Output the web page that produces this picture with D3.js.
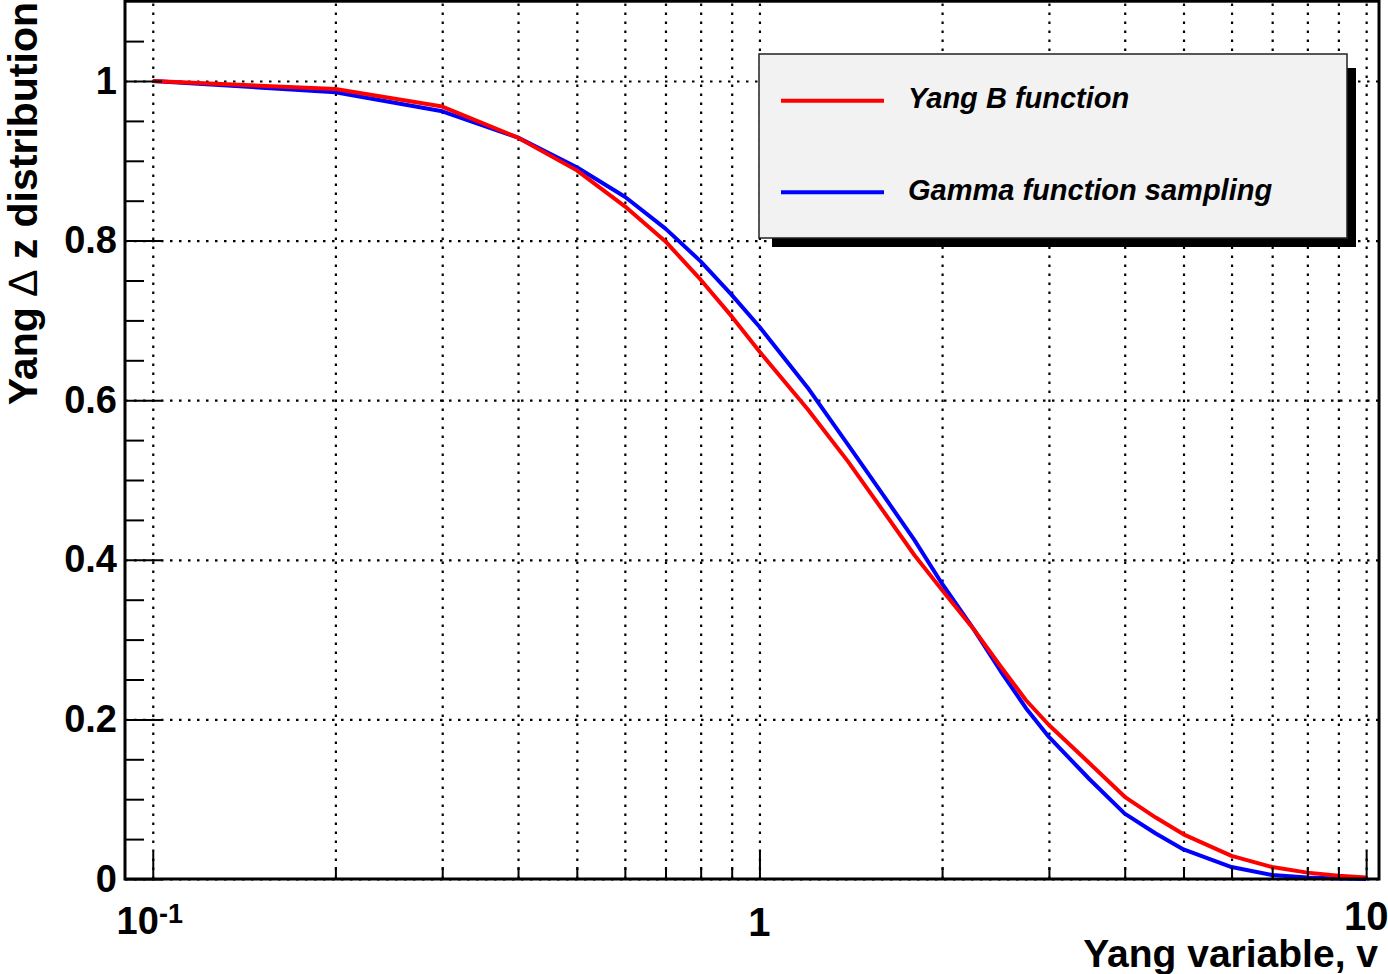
<!DOCTYPE html>
<html>
<head>
<meta charset="utf-8">
<script src="https://cdn.jsdelivr.net/npm/d3@7"></script>
<style>
  body { margin: 0; background: #fff; }
  svg { display: block; font-family: "Liberation Sans", Arial, Helvetica, sans-serif; }
</style>
</head>
<body>
<script>
// values
const vValues = [0.1, 0.2, 0.3, 0.4, 0.5, 0.6, 0.7, 0.8, 0.9, 1.0, 1.2, 1.4, 1.6, 1.8, 2.0, 2.25, 2.5, 2.75, 3.0, 3.5, 4.0, 4.5, 5.0, 6.0, 7.0, 8.0, 9.0, 10.0];
const yangB = [1.000, 0.990, 0.968, 0.929, 0.888, 0.843, 0.799, 0.751, 0.705, 0.661, 0.589, 0.523, 0.461, 0.406, 0.362, 0.314, 0.266, 0.224, 0.193, 0.145, 0.103, 0.077, 0.056, 0.029, 0.015, 0.008, 0.004, 0.002];
const gammaSampling = [1.000, 0.986, 0.962, 0.929, 0.892, 0.855, 0.815, 0.774, 0.732, 0.692, 0.616, 0.544, 0.481, 0.425, 0.370, 0.314, 0.260, 0.214, 0.178, 0.125, 0.082, 0.057, 0.037, 0.015, 0.005, 0.002, 0.0005, 0.0];
const seriesNames = ["Yang B function", "Gamma function sampling"];
const seriesColors = ["#ff0000", "#0000ff"];

const xMajorTicks = [0.1, 1, 10];
const xMinorTicks = [0.2, 0.3, 0.4, 0.5, 0.6, 0.7, 0.8, 0.9, 2, 3, 4, 5, 6, 7, 8, 9];
const xGridTicks = [0.1, 0.2, 0.3, 0.4, 0.5, 0.6, 0.7, 0.8, 0.9, 1, 2, 3, 4, 5, 6, 7, 8, 9, 10];
const yMajorTicks = [0, 0.2, 0.4, 0.6, 0.8, 1];
const yMinorTicks = [0.05, 0.1, 0.15, 0.25, 0.3, 0.35, 0.45, 0.5, 0.55, 0.65, 0.7, 0.75, 0.85, 0.9, 0.95, 1.05];

const W = 1388, H = 974;
const frame = { left: 125, right: 1379, top: 1.2, bottom: 879 };

const svg = d3.select('body').append('svg')
    .attr('width', W)
    .attr('height', H);

const x = d3.scaleLog().domain([0.09, 10.5]).range([frame.left, frame.right]);
const y = d3.scaleLinear().domain([0, 1.1]).range([frame.bottom, frame.top]);

// dotted grid
const grid = svg.append('g').attr('class', 'grid');
grid.append('g')
    .attr('transform', 'translate(0,' + frame.bottom + ')')
    .call(d3.axisBottom(x).tickValues(xGridTicks).tickSize(-(frame.bottom - frame.top)).tickFormat(''));
grid.append('g')
    .attr('transform', 'translate(' + frame.left + ',0)')
    .call(d3.axisLeft(y).tickValues(yMajorTicks).tickSize(-(frame.right - frame.left)).tickFormat(''));
grid.selectAll('.domain').remove();
grid.selectAll('line')
    .style('stroke', '#000')
    .style('stroke-width', '2.2px')
    .style('stroke-dasharray', '2.5,6.5');

// curves (blue first, red drawn on top)
const line = d3.line()
    .x(d => x(d[0]))
    .y(d => y(d[1]));
const series = [
    { values: gammaSampling, color: seriesColors[1] },
    { values: yangB, color: seriesColors[0] }
];
svg.append('g')
    .attr('class', 'curves')
    .selectAll('path')
    .data(series)
    .enter().append('path')
    .attr('d', d => line(vValues.map((v, i) => [v, d.values[i]])))
    .style('fill', 'none')
    .style('stroke', d => d.color)
    .style('stroke-width', '4px')
    .style('stroke-linejoin', 'round');

// legend
const lg = { x0: 759, y0: 54, x1: 1347, y1: 238 };
const legend = svg.append('g').attr('class', 'legend');
legend.append('rect')
    .attr('x', lg.x0 + 13).attr('y', lg.y0 + 14)
    .attr('width', lg.x1 - lg.x0 - 4).attr('height', lg.y1 - lg.y0 - 5)
    .style('fill', '#000');
legend.append('rect')
    .attr('x', lg.x0).attr('y', lg.y0)
    .attr('width', lg.x1 - lg.x0).attr('height', lg.y1 - lg.y0)
    .style('fill', '#f2f2f2')
    .style('stroke', '#222')
    .style('stroke-width', '1.5px');
const entries = legend.selectAll('g.entry')
    .data(seriesNames)
    .enter().append('g')
    .attr('class', 'entry')
    .attr('transform', (d, i) => 'translate(0,' + (100.7 + i * 91.5) + ')');
entries.append('line')
    .attr('x1', 781).attr('x2', 884)
    .style('stroke', (d, i) => seriesColors[i])
    .style('stroke-width', '4px');
entries.append('text')
    .attr('x', 908)
    .attr('y', 7.5)
    .style('font-size', '29px')
    .style('font-weight', 'bold')
    .style('font-style', 'italic')
    .style('fill', '#000')
    .text(d => d);

// frame
svg.append('rect')
    .attr('x', frame.left).attr('y', frame.top)
    .attr('width', frame.right - frame.left)
    .attr('height', frame.bottom - frame.top)
    .style('fill', 'none')
    .style('stroke', '#000')
    .style('stroke-width', '3px');

// ticks
const ticks = svg.append('g').attr('class', 'ticks');
ticks.append('g')
    .attr('transform', 'translate(0,' + frame.bottom + ')')
    .call(d3.axisBottom(x).tickValues(xMajorTicks).tickSize(-27).tickFormat(''));
ticks.append('g')
    .attr('transform', 'translate(0,' + frame.bottom + ')')
    .call(d3.axisBottom(x).tickValues(xMinorTicks).tickSize(-12).tickFormat(''));
const yAxis = ticks.append('g')
    .attr('transform', 'translate(' + frame.left + ',0)')
    .call(d3.axisLeft(y).tickValues(yMajorTicks).tickSize(-37).tickPadding(8).tickFormat(d3.format('~g')));
ticks.append('g')
    .attr('transform', 'translate(' + frame.left + ',0)')
    .call(d3.axisLeft(y).tickValues(yMinorTicks).tickSize(-19).tickFormat(''));
ticks.selectAll('.domain').remove();
ticks.selectAll('line').style('stroke', '#000').style('stroke-width', '2px');
yAxis.selectAll('text')
    .attr('font-size', 38)
    .attr('font-weight', 'bold')
    .attr('font-family', '"Liberation Sans", Arial, sans-serif')
    .attr('fill', '#000');

// x tick labels (10^-1, 1, 10)
const xLabels = svg.append('g').attr('class', 'xlabels')
    .selectAll('text')
    .data(xMajorTicks)
    .enter().append('text')
    .attr('x', d => x(d))
    .attr('y', 936)
    .attr('text-anchor', 'middle')
    .style('font-size', '40px')
    .style('font-weight', 'bold')
    .style('fill', '#000');
xLabels.each(function (d) {
    const t = d3.select(this);
    if (d < 1) {
        t.attr('x', x(d) - 3).attr('y', 934);
        t.append('tspan').style('font-size', '38px').text('10');
        t.append('tspan').attr('dy', -11).style('font-size', '27px').text('-1');
    } else if (d > 1) {
        // pushed up a little so it does not sit on the axis title
        t.attr('y', 930).text(d3.format('~g')(d));
    } else {
        t.text(d3.format('~g')(d));
    }
});

// axis titles
svg.append('text')
    .attr('x', 1378)
    .attr('y', 967)
    .attr('text-anchor', 'end')
    .style('font-size', '39px')
    .style('font-weight', 'bold')
    .text('Yang variable, v');

const yTitle = svg.append('text')
    .attr('transform', 'translate(37,2) rotate(-90)')
    .attr('text-anchor', 'end')
    .style('font-size', '41px')
    .style('font-weight', 'bold');
yTitle.append('tspan').text('Yang ');
yTitle.append('tspan').style('font-weight', 'normal').text('\u2206');
yTitle.append('tspan').text(' z distribution');
</script>
</body>
</html>
